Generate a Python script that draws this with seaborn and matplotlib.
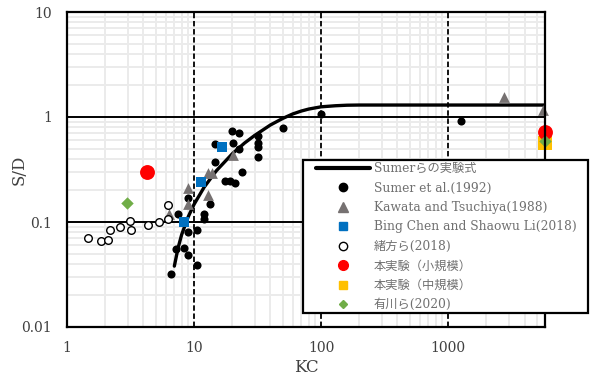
import matplotlib
matplotlib.use("Agg")
import matplotlib.pyplot as plt
from matplotlib.lines import Line2D
from matplotlib.patches import Rectangle
from matplotlib.ticker import LogLocator, FixedLocator, NullFormatter
import seaborn as sns

# Sumerらの実験式
curve_kc = [7, 7.5, 8, 9, 10, 12, 15, 20, 25, 30, 40, 50, 60, 70, 80, 100, 130, 160, 200, 300, 1000, 5800]
curve_sd = [0.038, 0.057, 0.076, 0.112, 0.147, 0.214, 0.308, 0.446, 0.565, 0.667, 0.84, 0.97,
            1.07, 1.14, 1.19, 1.25, 1.28, 1.295, 1.30, 1.30, 1.30, 1.30]

# Sumer et al.(1992)
sumer_kc = [6.6, 7.2, 8.3, 9.0, 10.6, 7.5, 9.0, 10.6, 12.0, 12.0, 9.0, 13.4, 14.6, 17.5, 19.2,
            21.0, 23.9, 14.6, 19.9, 22.6, 20.3, 22.6, 31.9, 31.9, 31.9, 31.9, 50, 100, 1270]
sumer_sd = [0.032, 0.055, 0.057, 0.049, 0.039, 0.12, 0.080, 0.083, 0.12, 0.106, 0.17, 0.15, 0.37,
            0.245, 0.245, 0.234, 0.30, 0.55, 0.74, 0.70, 0.57, 0.50, 0.66, 0.57, 0.52, 0.42,
            0.79, 1.07, 0.92]

# Kawata and Tsuchiya(1988)
kawata_kc = [8.9, 8.9, 6.3, 13.0, 13.9, 13.0, 20.4, 2760, 5600]
kawata_sd = [0.21, 0.148, 0.12, 0.29, 0.29, 0.18, 0.43, 1.55, 1.17]

# Bing Chen and Shaowu Li(2018)
chen_kc = [8.4, 11.35, 16.7]
chen_sd = [0.099, 0.238, 0.514]

# 緒方ら(2018)
ogata_kc = [1.47, 1.84, 2.12, 2.18, 2.61, 3.13, 3.19, 4.37, 5.3, 6.28, 6.28]
ogata_sd = [0.070, 0.066, 0.068, 0.084, 0.090, 0.102, 0.084, 0.093, 0.099, 0.107, 0.146]

# 本実験（小規模）, 本実験（中規模）, 有川ら(2020)
small_kc = [4.3, 5800]
small_sd = [0.30, 0.72]
mid_kc = [5800]
mid_sd = [0.565]
arikawa_kc = [2.95, 5800]
arikawa_sd = [0.152, 0.59]

LABELS = ["Sumerらの実験式", "Sumer et al.(1992)", "Kawata and Tsuchiya(1988)",
          "Bing Chen and Shaowu Li(2018)", "緒方ら(2018)", "本実験（小規模）",
          "本実験（中規模）", "有川ら(2020)"]

GRAY = "#767171"
BLUE = "#0070C0"
RED = "#FF0000"
YELLOW = "#FFC000"
GREEN = "#70AD47"
TEXT = "#404040"


def main():
    sns.set_style("white")
    plt.rcParams["font.family"] = ["DejaVu Serif", "Noto Sans CJK JP"]

    fig = plt.figure(figsize=(5.91, 3.83), dpi=100)
    ax = fig.add_axes([67 / 591, 56 / 383, 478 / 591, 315 / 383])
    ax.set_xscale("log")
    ax.set_yscale("log")
    ax.set_xlim(1, 5800)
    ax.set_ylim(0.01, 10)

    # grid
    ax.xaxis.set_minor_locator(LogLocator(base=10, subs=range(2, 10)))
    ax.yaxis.set_minor_locator(LogLocator(base=10, subs=range(2, 10)))
    ax.xaxis.set_minor_formatter(NullFormatter())
    ax.yaxis.set_minor_formatter(NullFormatter())
    ax.grid(which="minor", color="#ebebeb", lw=1.4)
    for v in [10, 100, 1000]:
        ax.axvline(v, color="black", lw=1.3, ls=(0, (3, 1.5)), zorder=1.5)
    for v in [0.1, 1]:
        ax.axhline(v, color="black", lw=1.4, zorder=1.5)
    ax.set_axisbelow(True)

    sns.lineplot(x=curve_kc, y=curve_sd, ax=ax, color="black", lw=2.4, estimator=None, zorder=3)
    sns.scatterplot(x=sumer_kc, y=sumer_sd, ax=ax, color="black", s=34, linewidth=0, zorder=4)
    sns.scatterplot(x=kawata_kc, y=kawata_sd, ax=ax, color=GRAY, marker="^", s=60, linewidth=0,
                    zorder=4, clip_on=False)
    sns.scatterplot(x=chen_kc, y=chen_sd, ax=ax, color=BLUE, marker="s", s=52, linewidth=0, zorder=4)
    sns.scatterplot(x=ogata_kc, y=ogata_sd, ax=ax, facecolor="white", edgecolor="black",
                    s=30, linewidth=1.0, zorder=4)
    sns.scatterplot(x=mid_kc, y=mid_sd, ax=ax, color=YELLOW, marker="s", s=90, linewidth=0,
                    zorder=4, clip_on=False)
    sns.scatterplot(x=small_kc, y=small_sd, ax=ax, color=RED, s=115, linewidth=0, zorder=5,
                    clip_on=False)
    sns.scatterplot(x=arikawa_kc, y=arikawa_sd, ax=ax, color=GREEN, marker="D", s=40,
                    linewidth=0, zorder=6, clip_on=False)

    for side in ["left", "right", "top", "bottom"]:
        ax.spines[side].set_color("black")
        ax.spines[side].set_linewidth(1.6)
        ax.spines[side].set_zorder(7)

    ax.xaxis.set_major_locator(FixedLocator([1, 10, 100, 1000]))
    ax.set_xticklabels(["1", "10", "100", "1000"])
    ax.yaxis.set_major_locator(FixedLocator([0.01, 0.1, 1, 10]))
    ax.set_yticklabels(["0.01", "0.1", "1", "10"])
    ax.tick_params(which="both", length=0, labelsize=10, colors=TEXT)
    ax.tick_params(axis="y", pad=11)
    ax.tick_params(axis="x", pad=10)
    ax.set_xlabel("KC", fontsize=12, color=TEXT)
    ax.set_ylabel("S/D", fontsize=12, color=TEXT)
    ax.xaxis.set_label_coords(0.5, -(368 - 327) / 315, transform=ax.transAxes)
    ax.yaxis.set_label_coords(-(67 - 19) / 478, 0.5, transform=ax.transAxes)
    ax.xaxis.label.set_va("center")
    ax.yaxis.label.set_va("center")

    # legend box (frame drawn separately, bottom row sits close to the edge)
    box = Rectangle((303 / 591, 1 - 313 / 383), 285 / 591, 153 / 383, transform=fig.transFigure,
                    facecolor="white", edgecolor="black", lw=1.6, zorder=9, clip_on=False)
    ax.add_patch(box)

    handles = [
        Line2D([], [], color="black", lw=3),
        Line2D([], [], ls="", marker="o", color="black", ms=6),
        Line2D([], [], ls="", marker="^", color=GRAY, ms=7),
        Line2D([], [], ls="", marker="s", color=BLUE, ms=6),
        Line2D([], [], ls="", marker="o", mfc="white", mec="black", mew=1.0, ms=6),
        Line2D([], [], ls="", marker="o", color=RED, ms=7),
        Line2D([], [], ls="", marker="s", color=YELLOW, ms=6),
        Line2D([], [], ls="", marker="D", color=GREEN, ms=4),
    ]
    leg = ax.legend(handles, LABELS, loc="upper left", bbox_to_anchor=(316 / 591, 1 - 162 / 383),
                    bbox_transform=fig.transFigure, borderaxespad=0, borderpad=0, fontsize=8.8,
                    handlelength=4.4, handletextpad=0.33, labelspacing=0.53, frameon=False)
    leg.set_zorder(10)
    for t in leg.get_texts():
        t.set_color("#707070")

    fig.savefig("out.png", dpi=100)


if __name__ == "__main__":
    main()
